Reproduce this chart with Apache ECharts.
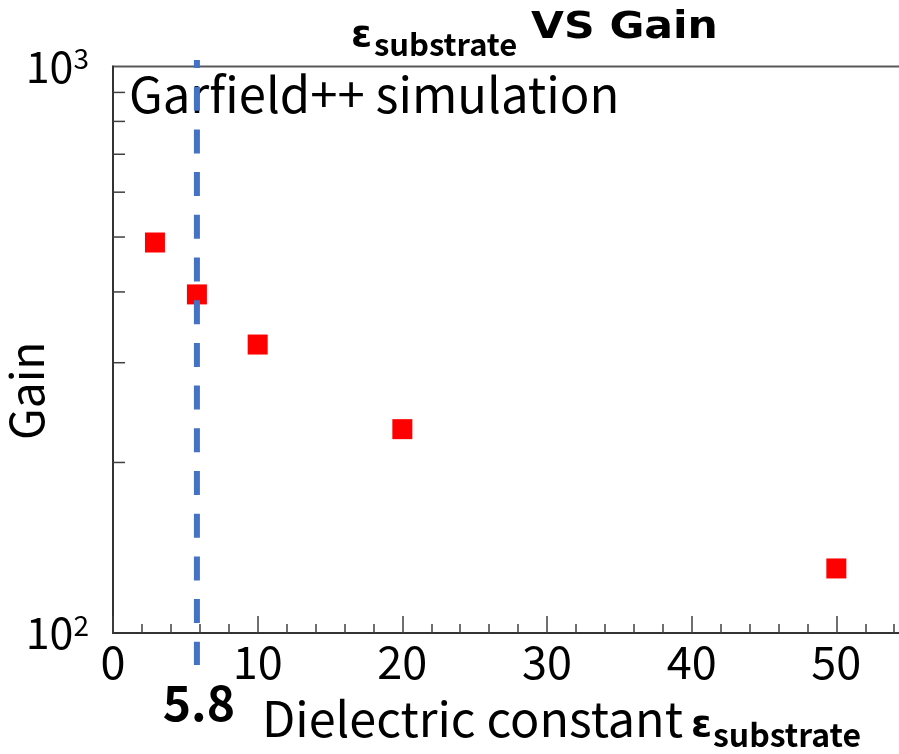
<!DOCTYPE html>
<html><head><meta charset="utf-8">
<script src="https://cdn.jsdelivr.net/npm/echarts@6/dist/echarts.min.js"></script>
<style>html,body{margin:0;padding:0;background:#fff}#c{width:899px;height:754px}</style>
</head><body><div id="c"></div>
<script>
// ---- data ----
const epsilonValues = [2.9, 5.8, 10, 20, 50];
const gainValues = [489, 396, 323, 229, 130];
const referenceEpsilon = [5.8];
const referenceLabel = ['5.8'];
const yMinorTickValues = [200, 300, 400, 500, 600, 700, 800, 900];
const yTickExponents = ['2', '3'];
const xMin = 0, xMax = 60, xInterval = 10;
const yMin = 100, yMax = 1000;
const annotationText = 'Garfield++ simulation';
const titleParts = ['ε', 'substrate', 'VS Gain'];
const xNameParts = ['Dielectric constant', 'ε', 'substrate'];

const FONT = '"Noto Sans CJK JP", "Noto Sans", sans-serif';
const DV = '"DejaVu Sans"';
const chart = echarts.init(document.getElementById('c'), null, {renderer: 'canvas'});

const points = epsilonValues.map((e, i) => [e, gainValues[i]]);

const option = {
  backgroundColor: '#ffffff',
  animation: false,
  graphic: [
    {type: 'text', x: 351, y: 36, style: {text: titleParts[0], font: 'bold 38px ' + DV, fill: '#000', verticalAlign: 'middle'}},
    {type: 'text', x: 374, y: 44, style: {text: titleParts[1], font: 'bold 31px ' + FONT, fill: '#000', verticalAlign: 'middle'}},
    {type: 'text', x: 531, y: 28, scaleX: 1.15, style: {text: titleParts[2], font: 'bold 37px ' + DV, fill: '#000', verticalAlign: 'middle'}},
    {type: 'text', x: 129, y: 94, style: {text: annotationText, font: '49px ' + FONT, fill: '#000', verticalAlign: 'middle'}},
    {type: 'text', x: 262, y: 719, style: {text: xNameParts[0], font: '48.5px ' + FONT, fill: '#000', verticalAlign: 'middle'}},
    {type: 'text', x: 691, y: 726, style: {text: xNameParts[1], font: 'bold 38px ' + DV, fill: '#000', verticalAlign: 'middle'}},
    {type: 'text', x: 713, y: 735, style: {text: xNameParts[2], font: 'bold 32px ' + FONT, fill: '#000', verticalAlign: 'middle'}}
  ],
  grid: {left: 113, top: 66.5, right: -82, bottom: 121, show: true, borderColor: '#595959', borderWidth: 2,
    containLabel: false, outerBoundsMode: 'none'},
  xAxis: {
    type: 'value', min: xMin, max: xMax, interval: xInterval,
    axisLine: {show: true, onZero: false, lineStyle: {color: '#333', width: 2}},
    axisTick: {show: true, inside: true, length: 17, lineStyle: {color: '#404040', width: 1.5}},
    minorTick: {show: true, splitNumber: 5, length: 9, lineStyle: {color: '#404040', width: 1.5}},
    axisLabel: {fontFamily: FONT, fontSize: 45, color: '#000', margin: 6},
    splitLine: {show: false}
  },
  yAxis: {
    type: 'log', logBase: 10, min: yMin, max: yMax,
    name: 'Gain', nameLocation: 'middle', nameGap: 63, nameRotate: 90, nameMoveOverlap: false,
    nameTextStyle: {fontFamily: FONT, fontSize: 46, color: '#000', padding: [0, 82, 0, 0]},
    axisLine: {show: true, lineStyle: {color: '#333', width: 2}},
    axisTick: {show: false},
    axisLabel: {
      margin: 24,
      formatter: v => '{b|10}{s|' + yTickExponents[Math.round(Math.log10(v)) - 2] + '}',
      rich: {
        b: {fontFamily: FONT, fontSize: 43, color: '#000', lineHeight: 44},
        s: {fontFamily: FONT, fontSize: 28, color: '#000', lineHeight: 22, verticalAlign: 'top'}
      }
    },
    splitLine: {show: false}
  },
  series: [{
    type: 'scatter',
    data: points,
    symbol: 'rect', symbolSize: 20,
    itemStyle: {color: '#ff0000', opacity: 1},
    z: 3
  }, {
    type: 'custom',
    data: yMinorTickValues.map(v => [xMin, v]),
    renderItem: (params, api) => {
      const p = api.coord([api.value(0), api.value(1)]);
      return {type: 'line', shape: {x1: p[0], y1: p[1], x2: p[0] + 12, y2: p[1]},
        style: {stroke: '#404040', lineWidth: 1.5}};
    },
    silent: true, z: 2
  }, {
    type: 'custom',
    data: referenceEpsilon.map(e => [e, yMin]),
    renderItem: (params, api) => {
      const x = api.value(0);
      const top = api.coord([x, yMax]);
      const bot = api.coord([x, yMin]);
      return {type: 'group', children: [
        {type: 'line', shape: {x1: top[0], y1: top[1] - 6.5, x2: bot[0], y2: bot[1] + 32},
          style: {stroke: '#4472C4', lineWidth: 6, lineDash: [24, 18.7], lineDashOffset: 16}},
        {type: 'text', style: {text: referenceLabel[params.dataIndex], x: bot[0] + 2, y: bot[1] + 70,
          align: 'center', verticalAlign: 'middle', font: 'bold 48px ' + FONT, fill: '#000'}}
      ]};
    },
    silent: true, z: 5
  }]
};
chart.setOption(option);
</script></body></html>
